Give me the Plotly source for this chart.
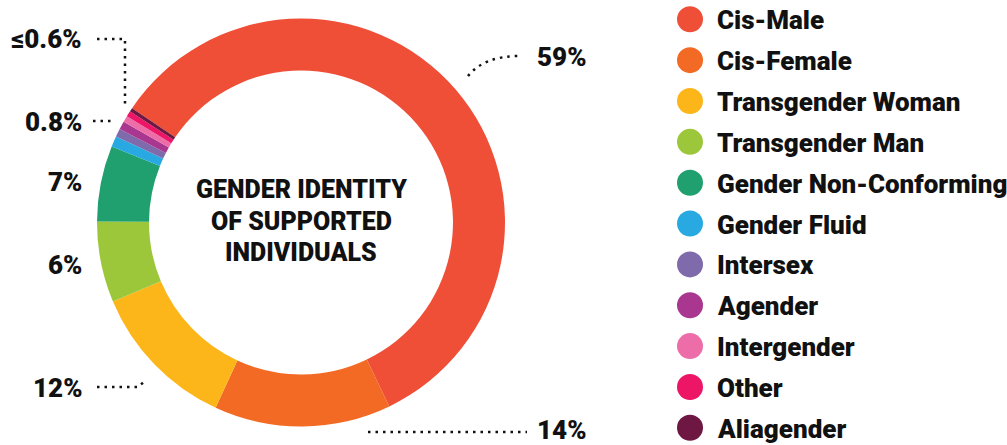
import plotly.graph_objects as go

# ---------------- data ----------------
categories = ["Cis-Male", "Cis-Female", "Transgender Woman", "Transgender Man",
              "Gender Non-Conforming", "Gender Fluid", "Intersex", "Agender",
              "Intergender", "Other", "Aliagender"]
shares = [58.4, 14.0, 11.8, 6.4, 6.0, 0.85, 0.65, 0.65, 0.5, 0.45, 0.3]
colors = ["#EF4F37", "#F26A24", "#FCB61A", "#9DC73B", "#1FA06E", "#28A9E1",
          "#7F6AAC", "#A9378F", "#EC6DA8", "#EC1566", "#6E1742"]
pct_labels = ["59%", "14%", "12%", "6%", "7%", "0.8%", "≤0.6%"]
title_lines = ["GENDER IDENTITY", "OF SUPPORTED", "INDIVIDUALS"]

W, H = 1007, 445
FONT = "Roboto, Lato, sans-serif"
INK = "#111111"
WEIGHT = 900

fig = go.Figure()

# donut
fig.add_trace(go.Pie(
    labels=categories, values=shares, sort=False, direction="clockwise",
    rotation=304.1, hole=0.745,
    marker=dict(colors=colors, line=dict(width=0)),
    textinfo="none", hoverinfo="label+percent", showlegend=False,
    domain=dict(x=[97 / W, 505 / W], y=[1 - 426.5 / H, 1 - 18.5 / H]),
))

# custom legend (circles + labels)
leg_y = [19.3 + 40.85 * i for i in range(len(categories))]
fig.add_trace(go.Scatter(
    x=[690] * len(categories), y=leg_y, mode="markers",
    marker=dict(size=26, color=colors, line=dict(width=0)),
    hoverinfo="skip", showlegend=False,
))

annotations = []
for cat, yy in zip(categories, leg_y):
    annotations.append(dict(x=715, y=yy + 1, xref="x", yref="y", text=cat,
                            showarrow=False, xanchor="left", yanchor="middle",
                            font=dict(family=FONT, size=26, color=INK, weight=WEIGHT)))

# percent labels
pct_pos = [(535, 57, "left"), (535, 430, "left"), (84, 388, "right"),
           (84, 265, "right"), (84, 182, "right"), (84, 122, "right"),
           (84, 39, "right")]
for lab, (px, py, anc) in zip(pct_labels, pct_pos):
    annotations.append(dict(x=px, y=py, xref="x", yref="y", text=lab,
                            showarrow=False, xanchor=anc, yanchor="middle",
                            font=dict(family=FONT, size=26, color=INK, weight=WEIGHT)))

# centre title
for line, py in zip(title_lines, [189, 221, 252]):
    annotations.append(dict(x=301, y=py, xref="x", yref="y", text=line,
                            showarrow=False, xanchor="center", yanchor="middle",
                            font=dict(family=FONT, size=25, color=INK, weight=WEIGHT)))

# dotted leaders
dot = dict(color=INK, width=2.5, dash="2.5px,5px")
leaders = ["M 468 76 Q 484 56 520 56",
           "M 368 432 L 527 432",
           "M 97 387 L 138 387 L 145 381",
           "M 93 121 L 113 121",
           "M 97 39 L 125 39 L 125 105"]
shapes = [dict(type="path", path=p, xref="x", yref="y", line=dot, layer="above")
          for p in leaders]

fig.update_layout(
    width=W, height=H, margin=dict(l=0, r=0, t=0, b=0),
    paper_bgcolor="white", plot_bgcolor="rgba(0,0,0,0)",
    xaxis=dict(range=[0, W], visible=False, domain=[0, 1], fixedrange=True),
    yaxis=dict(range=[H, 0], visible=False, domain=[0, 1], fixedrange=True),
    annotations=annotations, shapes=shapes, showlegend=False,
)

fig.write_html("out.html", config={"displayModeBar": False},
               post_script="document.body.style.margin='0px';")
